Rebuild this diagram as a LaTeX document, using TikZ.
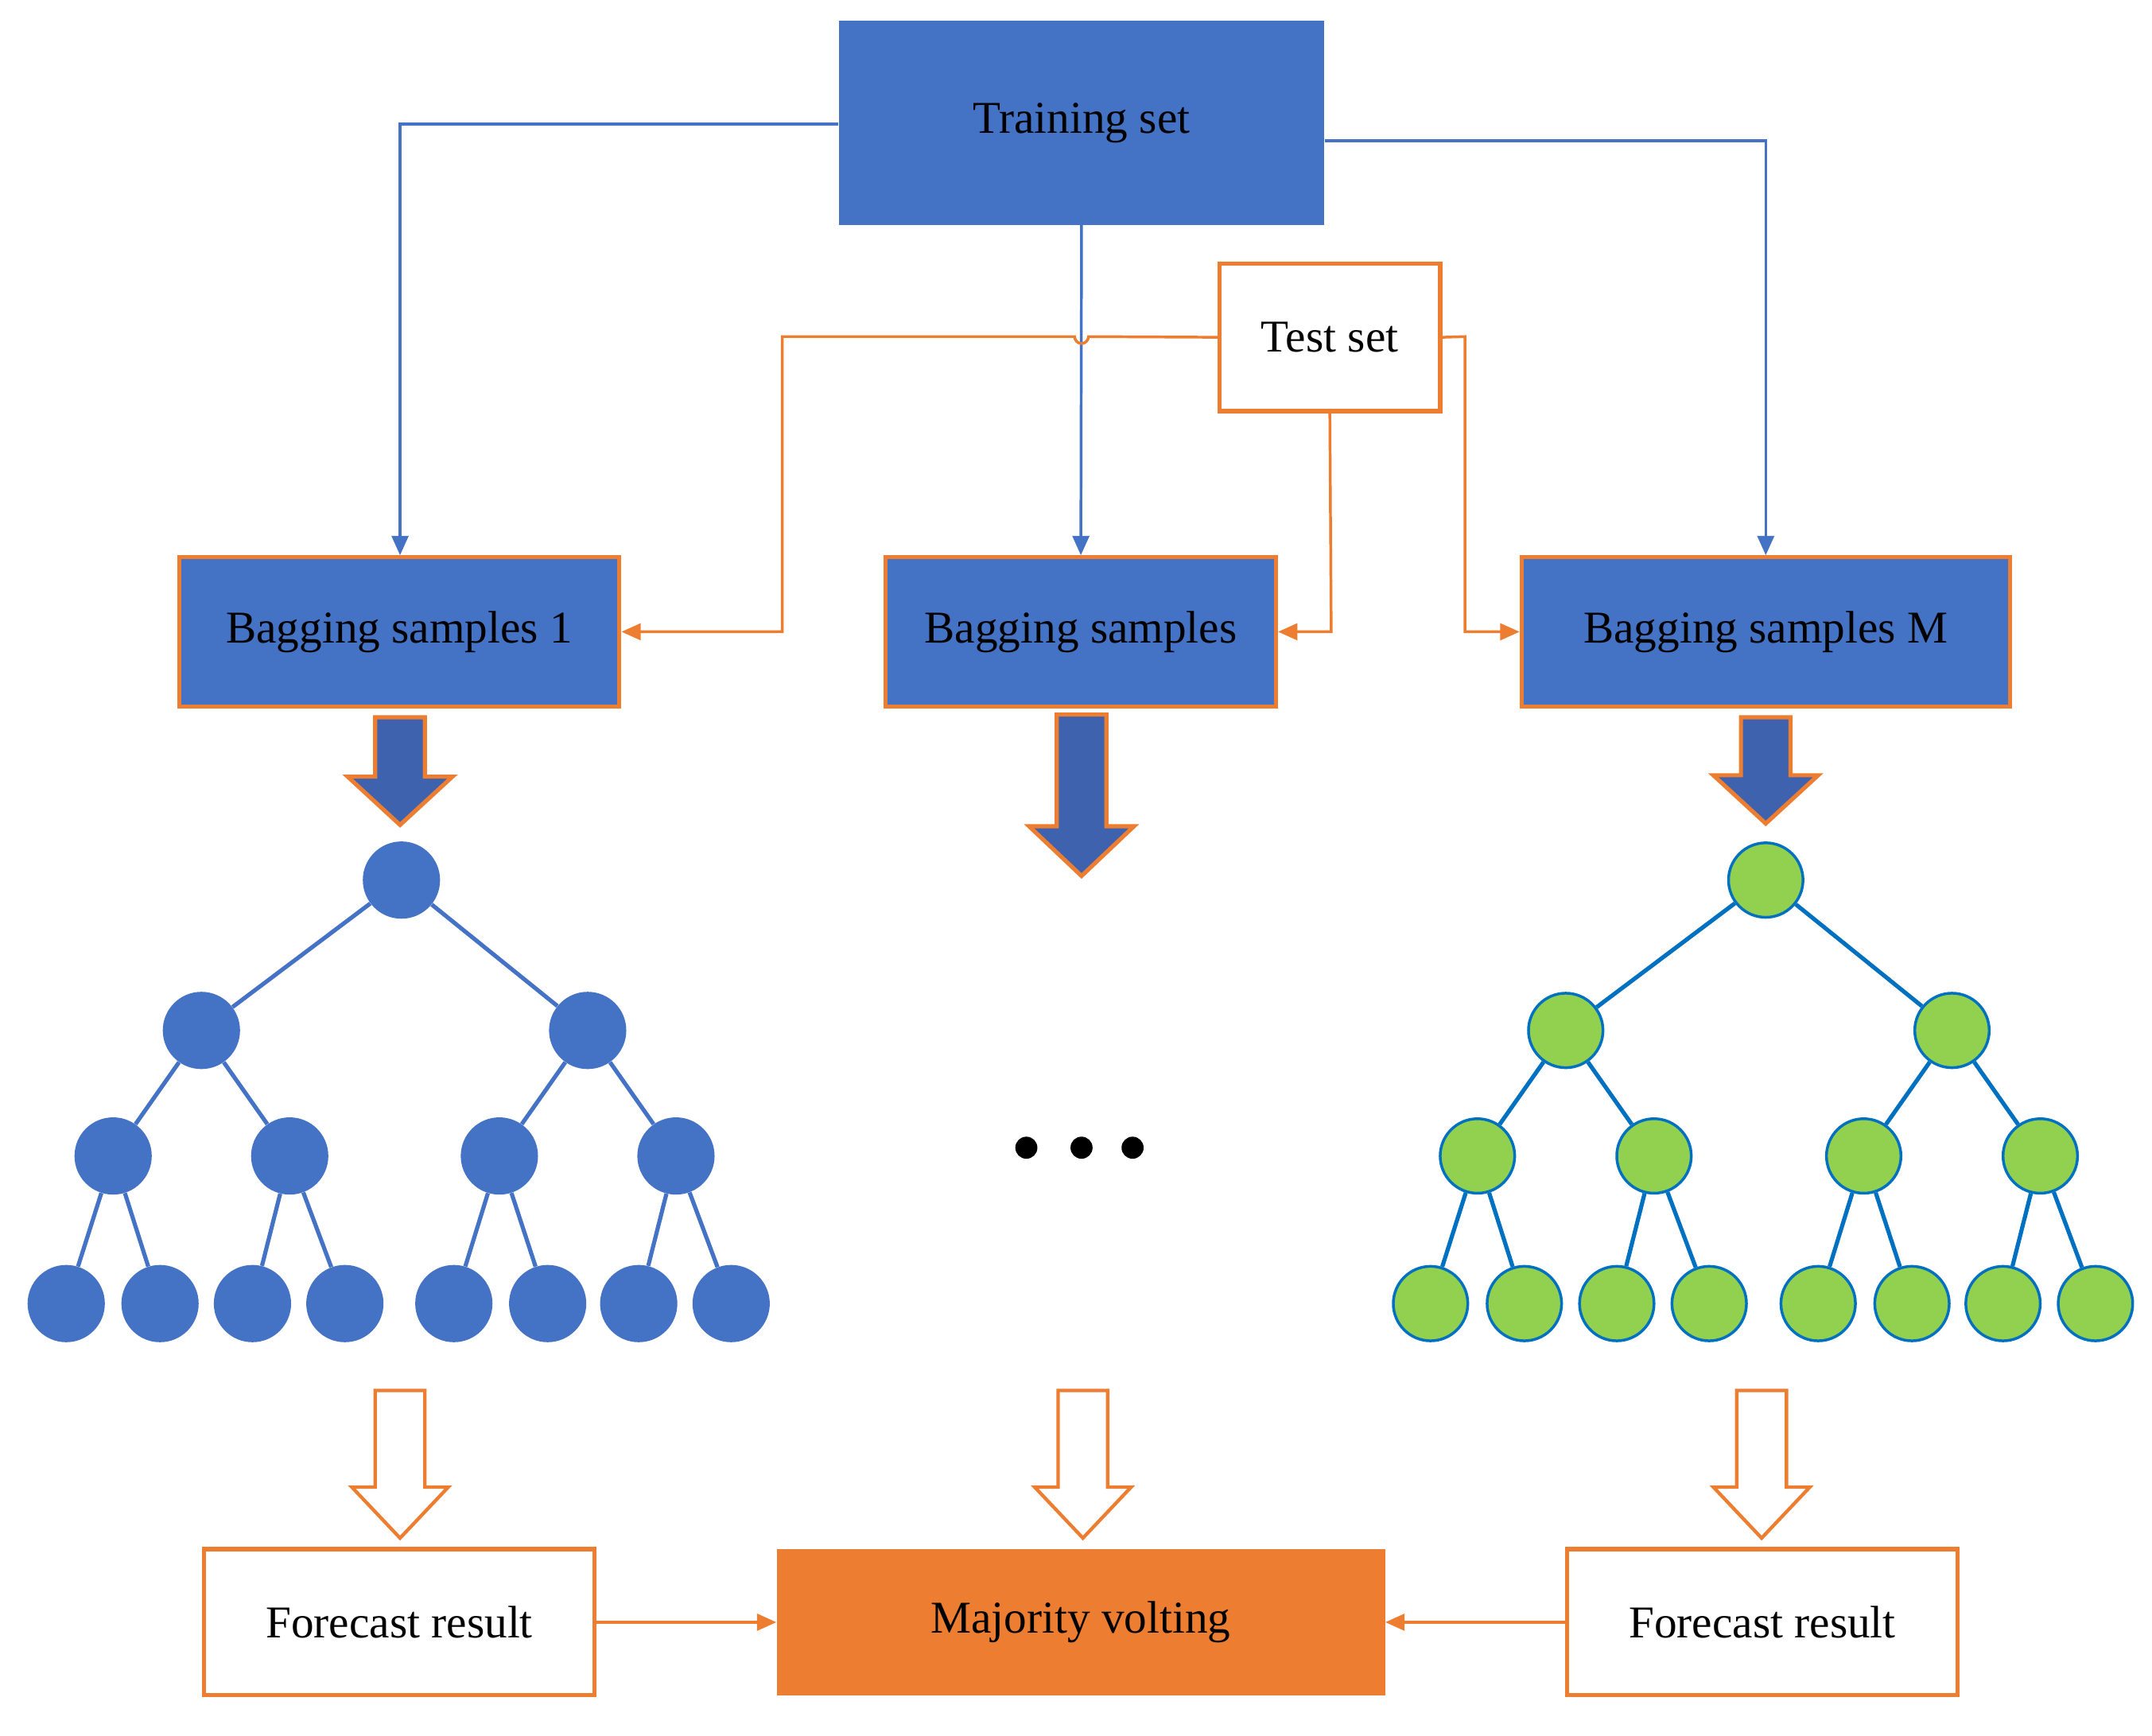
\documentclass[tikz,border=0pt]{standalone}
\usepackage{fontspec}
\setmainfont{Liberation Serif}
\usetikzlibrary{arrows.meta}
\definecolor{bl}{HTML}{4472C4}
\definecolor{dbl}{HTML}{3F62AE}
\definecolor{org}{HTML}{ED7D31}
\definecolor{grn}{HTML}{92D050}
\definecolor{eb}{HTML}{0070C0}
\newcommand\myarr[7]{% x, top, headstart, tip, shaftHalf, headHalf, style
  \path[#7] (#1-#5,#2) -- (#1+#5,#2) -- (#1+#5,#3) -- (#1+#6,#3) -- (#1,#4) -- (#1-#6,#3) -- (#1-#5,#3) -- cycle;}
\begin{document}
\begin{tikzpicture}[x=1pt,y=-1pt,
  lbl/.style={font=\fontsize{33}{40}\selectfont},
  bag/.style={draw=org,line width=3pt,fill=bl,lbl,inner sep=0},
  wbox/.style={draw=org,line width=3pt,fill=white,lbl,inner sep=0},
  bar/.style={draw=bl,line width=2pt,-{Triangle[length=14pt,width=12pt]}},
  oar/.style={draw=org,line width=2pt,-{Triangle[length=14pt,width=12pt]}},
  bn/.style={circle,fill=bl,minimum size=56pt,inner sep=0},
  gn/.style={circle,fill=grn,draw=eb,line width=2pt,minimum size=54pt,inner sep=0},
  be/.style={draw=bl,line width=3pt},
  ge/.style={draw=eb,line width=3pt}]
\useasboundingbox (0,0) rectangle (1560,1258);
\node[fill=bl,minimum width=352pt,minimum height=148pt,lbl,inner sep=0] (T) at (784,89) {Training set};
\node[wbox,minimum width=160pt,minimum height=107pt] (S) at (964,244.5) {Test set};
\node[bag,minimum width=319pt,minimum height=108pt] (B1) at (289.5,458) {Bagging samples 1};
\node[bag,minimum width=283pt,minimum height=108pt] (B2) at (783.5,458) {Bagging samples};
\node[bag,minimum width=354pt,minimum height=108pt] (B3) at (1280,458) {Bagging samples M};
\node[wbox,minimum width=283pt,minimum height=106pt] (F1) at (289.5,1176) {Forecast result};
\node[fill=org,minimum width=441pt,minimum height=106pt,lbl,inner sep=0] (MV) at (783.5,1176) {Majority volting};
\node[wbox,minimum width=283pt,minimum height=106pt] (F2) at (1277.5,1176) {Forecast result};
% blue connectors
\draw[bar] (T.west|-0,90) -| (B1.north-|290,0);
\draw[bar] (T.south) -- (B2.north);
\draw[bar] (T.east|-0,102) -| (B3.north-|1280,0);
% orange connectors
\draw[oar] (S.west) -- (789,244) arc (0:180:5) -- (567,244) -- (567,458) -- (B1.east);
\draw[oar] (S.south) -- (965,458) -- (B2.east);
\draw[oar] (S.east) -- (1062,244) -- (1062,458) -- (B3.west);
% thick arrows
\myarr{290}{520}{563}{598}{18}{38}{fill=dbl,draw=org,line width=3pt}
\myarr{784}{518}{599}{635}{18}{38}{fill=dbl,draw=org,line width=3pt}
\myarr{1280}{520}{562}{597}{18}{38}{fill=dbl,draw=org,line width=3pt}
\myarr{290}{1008}{1078}{1115}{18}{35}{fill=white,draw=org,line width=2.5pt}
\myarr{785}{1008}{1078}{1115}{18}{35}{fill=white,draw=org,line width=2.5pt}
\myarr{1277}{1008}{1078}{1115}{18}{35}{fill=white,draw=org,line width=2.5pt}
% left tree
\foreach \n/\x/\y in {r/291/638,a/146/747,b/426/747,c/82/838,d/210/838,e/362/838,f/490/838,
  l1/48/945,l2/116/945,l3/183/945,l4/250/945,l5/329/945,l6/397/945,l7/463/945,l8/530/945}
  \node[bn] (L\n) at (\x,\y) {};
\foreach \p/\c in {r/a,r/b,a/c,a/d,b/e,b/f,c/l1,c/l2,d/l3,d/l4,e/l5,e/l6,f/l7,f/l8}
  \draw[be] (L\p) -- (L\c);
% right tree
\foreach \n/\x/\y in {r/291/638,a/146/747,b/426/747,c/82/838,d/210/838,e/362/838,f/490/838,
  l1/48/945,l2/116/945,l3/183/945,l4/250/945,l5/329/945,l6/397/945,l7/463/945,l8/530/945}
  \node[gn] (R\n) at (\x+989,\y) {};
\foreach \p/\c in {r/a,r/b,a/c,a/d,b/e,b/f,c/l1,c/l2,d/l3,d/l4,e/l5,e/l6,f/l7,f/l8}
  \draw[ge] (R\p) -- (R\c);
% dots
\foreach \x in {744,784,821} \fill (\x,832) circle (8);
% bottom arrows
\draw[oar] (F1.east) -- (MV.west);
\draw[oar] (F2.west) -- (MV.east);
\end{tikzpicture}
\end{document}
